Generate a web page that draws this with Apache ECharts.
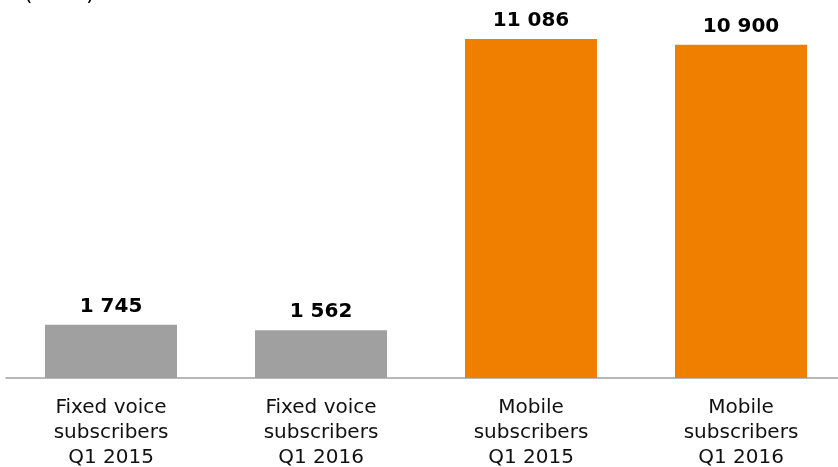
<!DOCTYPE html>
<html><head><meta charset="utf-8">
<script src="https://cdn.jsdelivr.net/npm/echarts@6/dist/echarts.min.js"></script>
<style>html,body{margin:0;padding:0;background:#fff}#c{width:838px;height:467px}</style>
</head><body><div id="c"></div>
<script>
var categories = ['Fixed voice\nsubscribers\nQ1 2015','Fixed voice\nsubscribers\nQ1 2016','Mobile\nsubscribers\nQ1 2015','Mobile\nsubscribers\nQ1 2016'];
var values = [1745, 1562, 11086, 10900];
var colors = ['#A0A0A0','#A0A0A0','#F07F00','#F07F00'];
var unitLabel = '(000s)';
function fmt(v){ return String(v).replace(/\B(?=(\d{3})+(?!\d))/g,' '); }
var chart = echarts.init(document.getElementById('c'), null, {renderer:'canvas'});
chart.setOption({
  animation:false,
  graphic:[{type:'text', left:24, top:-17, style:{text:unitLabel, font:'22px "DejaVu Sans"', fill:'#000'}}],
  grid:{left:6, right:-8, top:11, height:367, containLabel:false, outerBoundsMode:'none'},
  xAxis:{type:'category', data:categories,
    axisLine:{lineStyle:{color:'#A0A0A0', width:1.5}}, axisTick:{show:false},
    axisLabel:{interval:0, margin:17, fontFamily:'DejaVu Sans', fontSize:20, lineHeight:25, color:'#111'}},
  yAxis:{type:'value', min:0, max:12000, show:false, splitLine:{show:false}},
  series:[{type:'bar', barWidth:132,
    data: values.map(function(v,i){return {value:v, itemStyle:{color:colors[i]}};}),
    label:{show:true, position:'top', distance:8, fontFamily:'DejaVu Sans', fontWeight:'bold', fontSize:20, color:'#000',
      formatter:function(p){return fmt(p.value);}}
  }]
});
</script></body></html>
